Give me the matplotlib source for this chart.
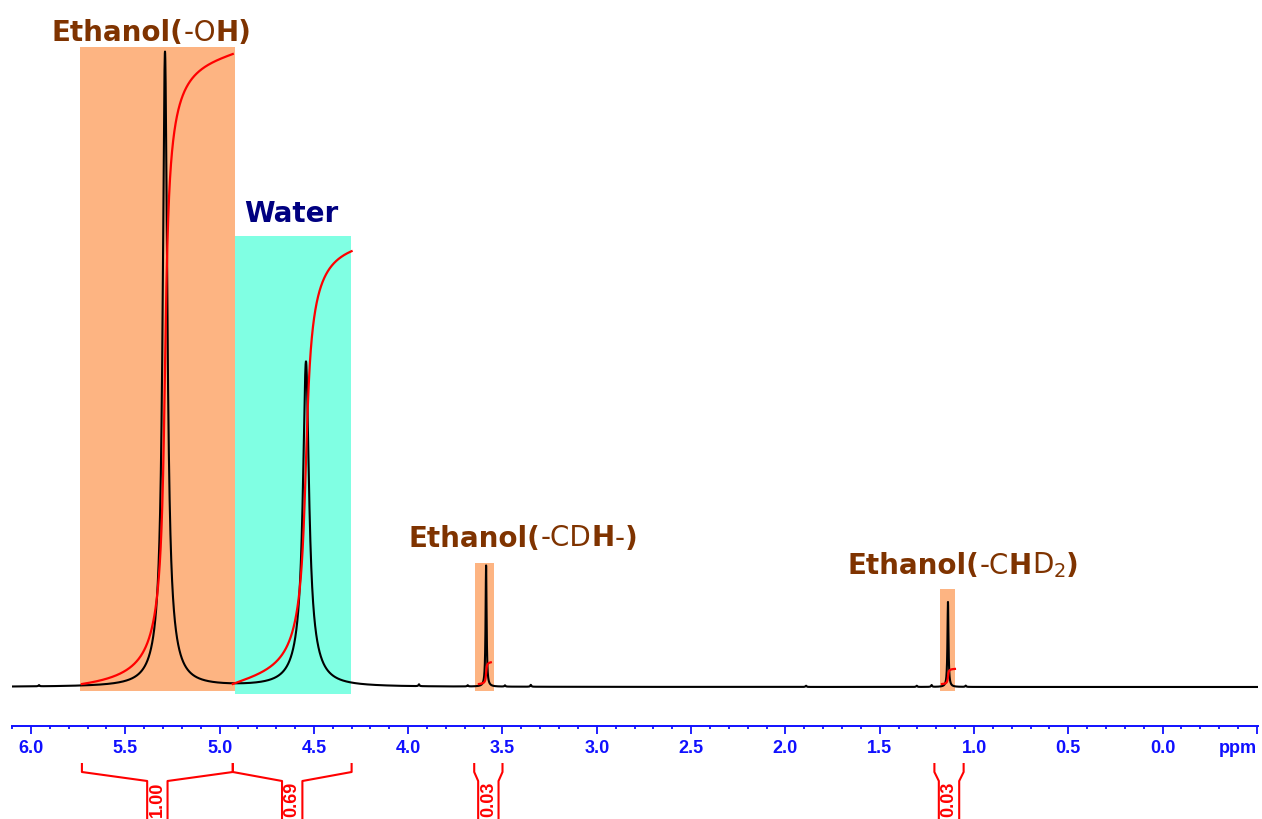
import numpy as np
import matplotlib
matplotlib.use("Agg")
import matplotlib.pyplot as plt
from matplotlib.patches import Rectangle
from matplotlib.ticker import MultipleLocator
from matplotlib.offsetbox import TextArea, HPacker, AnnotationBbox

# peak components: position (ppm), height (rel. to -OH), half width (ppm)
# -OH and water lines are a sharp line plus a broad foot
peak_ppm = [5.2895, 5.2895, 4.542, 4.542, 3.587, 1.138]
peak_height = [0.93, 0.07, 0.452, 0.060, 0.191, 0.134]
peak_hwhm = [0.0143, 0.0583, 0.0186, 0.0636, 0.0032, 0.0032]

# tiny bumps on the baseline
bump_ppm = [5.958, 3.943, 3.685, 3.487, 3.350, 1.891, 1.304, 1.225, 1.044]
bump_height = [0.002, 0.003, 0.002, 0.002, 0.003, 0.002, 0.002, 0.003, 0.002]
bump_hwhm = 0.003

# highlighted regions
box_left = [5.740, 4.918, 3.646, 1.180]
box_right = [4.918, 4.303, 3.545, 1.100]
box_top = [1.008, 0.710, 0.195, 0.154]
box_kind = ["ethanol", "water", "ethanol", "ethanol"]

# integration ranges and values
integ_left = [5.73, 4.93, 3.625, 1.170]
integ_right = [4.93, 4.30, 3.562, 1.101]
integ_labels = ["1.00", "0.69", "0.03", "0.03"]
bracket_left = [5.73, 4.93, 3.65, 1.21]
bracket_right = [4.93, 4.30, 3.50, 1.055]

# axis ticks
tick_ppm = [6.0, 5.5, 5.0, 4.5, 4.0, 3.5, 3.0, 2.5, 2.0, 1.5, 1.0, 0.5, 0.0, -0.5]
tick_labels = ["6.0", "5.5", "5.0", "4.5", "4.0", "3.5", "3.0", "2.5", "2.0",
               "1.5", "1.0", "0.5", "0.0", "ppm"]

# peak labels: (text, weight) pieces
label_parts = [
    [("Ethanol(", "bold"), ("-O", "normal"), ("H)", "bold")],
    [("Water", "bold")],
    [("Ethanol(", "bold"), ("-CD", "normal"), ("H", "bold"), ("-", "normal"), (")", "bold")],
    [("Ethanol(", "bold"), ("-C", "normal"), ("H", "bold"), ("D$_2$", "normal"), (")", "bold")],
]
label_kind = ["ethanol", "water", "ethanol", "ethanol"]
label_ppm = [5.361, 4.621, 3.391, 1.058]

ORANGE = "#fdb482"
CYAN = "#80ffe3"
BROWN = "#7f3300"
NAVY = "#000080"
BLUE = "#1010ff"
RED = "#ff0000"


def yd(row):
    # pixel row -> data y (baseline at row 687, -OH peak top at row 52)
    return (687 - row) / 635.0


x = np.arange(6.1007, -0.5058, -0.0002)
spec = np.zeros_like(x)
for p, h, w in zip(peak_ppm, peak_height, peak_hwhm):
    spec += h / (1 + ((x - p) / w) ** 2)
for p, h in zip(bump_ppm, bump_height):
    spec += h / (1 + ((x - p) / bump_hwhm) ** 2)

fig = plt.figure(figsize=(12.62, 8.19), dpi=100)
ax = fig.add_axes([12 / 1262, 0, 1246 / 1262, 1])
ax.set_xlim(6.1007, -0.5058)
ax.set_ylim(yd(819), yd(0))

# shaded boxes
box_bottom = {"ethanol": yd(691), "water": yd(694)}
for l, r, t, k in zip(box_left, box_right, box_top, box_kind):
    b = box_bottom[k]
    ax.add_patch(Rectangle((r, b), l - r, t - b, facecolor=ORANGE if k == "ethanol" else CYAN,
                           edgecolor="none", zorder=0))

ax.plot(x, spec, color="black", lw=1.5, zorder=2)

# integral curves
dx = abs(x[1] - x[0])
curves = []
for l, r in zip(integ_left, integ_right):
    m = (x <= l) & (x >= r)
    ys = spec[m]
    cum = np.concatenate([[0], np.cumsum((ys[1:] + ys[:-1]) / 2 * dx)])
    curves.append((x[m], cum))
scale = (yd(54) - yd(684)) / curves[0][1][-1]
for xs, cum in curves:
    ax.plot(xs, yd(684) + cum * scale, color=RED, lw=1.6, zorder=3)

# integral brackets
gap = 0.054
for l, r, lab in zip(bracket_left, bracket_right, integ_labels):
    c = (l + r) / 2
    ax.plot([l, l, c + gap, c + gap], [yd(763), yd(772), yd(781), yd(830)],
            color=RED, lw=1.5, solid_capstyle="butt")
    ax.plot([c - gap, c - gap, r, r], [yd(830), yd(781), yd(772), yd(763)],
            color=RED, lw=1.5, solid_capstyle="butt")
    ax.text(c, yd(782), lab, rotation=90, ha="center", va="top", color=RED,
            fontsize=13, fontweight="bold", family="Liberation Sans")

# peak labels
label_base = [40, 222, 546, 574]
for parts, k, p, base in zip(label_parts, label_kind, label_ppm, label_base):
    col = BROWN if k == "ethanol" else NAVY
    kids = [TextArea(s, textprops=dict(fontsize=20, fontweight=w, color=col,
                                        family="DejaVu Sans")) for s, w in parts]
    pack = HPacker(children=kids, align="baseline", pad=0, sep=0)
    ab = AnnotationBbox(pack, (p, yd(base + 6.5)), xycoords="data", frameon=False,
                        box_alignment=(0.5, 0), pad=0)
    ax.add_artist(ab)

# ppm scale
for s in ["top", "left", "right"]:
    ax.spines[s].set_visible(False)
ax.spines["bottom"].set_position(("data", yd(725.7)))
ax.spines["bottom"].set_color(BLUE)
ax.spines["bottom"].set_linewidth(1.4)
ax.set_yticks([])
ax.set_xticks(tick_ppm)
ax.set_xticklabels(tick_labels, fontfamily="Liberation Sans", fontweight="bold")
ax.xaxis.set_minor_locator(MultipleLocator(0.1))
ax.tick_params(axis="x", which="major", direction="out", length=5.5, width=1.3,
               color=BLUE, labelcolor=BLUE, labelsize=13, pad=5)
ax.tick_params(axis="x", which="minor", direction="out", length=2.5, width=1.3, color=BLUE)
ax.get_xticklabels()[-1].set_horizontalalignment("right")

fig.savefig("out.png", dpi=100)
